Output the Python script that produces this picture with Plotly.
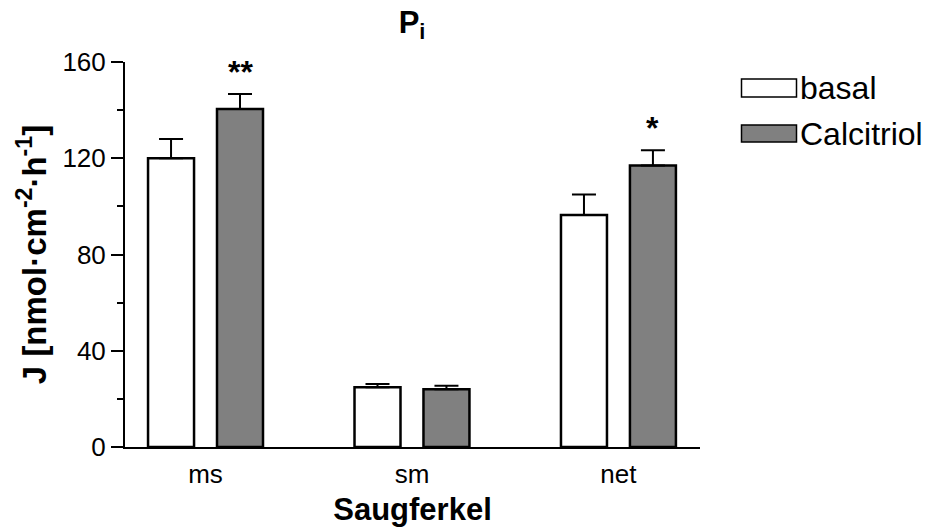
import plotly.graph_objects as go

categories = ["ms", "sm", "net"]
basal = [120.0, 24.8, 96.4]
basal_err = [8.0, 1.4, 8.5]
calcitriol = [140.5, 24.0, 117.0]
calcitriol_err = [6.2, 1.5, 6.3]
calcitriol_sig = ["**", "", "*"]
series_names = ["basal", "Calcitriol"]
y_ticks = [0, 40, 80, 120, 160]

W, H = 931, 532
L, R, T, B = 125, 231, 62, 85
FONT = "Liberation Sans, Arial, Helvetica, sans-serif"

def px_x(px):
    return (px - L) / (W - L - R)

def px_y(py):
    return (H - B - py) / (H - T - B)

fig = go.Figure()
fig.add_trace(go.Bar(
    name=series_names[0], x=categories, y=basal,
    marker=dict(color="white", line=dict(color="black", width=2.5)),
    error_y=dict(type="data", array=basal_err, arrayminus=[0]*3, symmetric=False,
                 color="black", thickness=2, width=12),
    showlegend=False,
))
fig.add_trace(go.Bar(
    name=series_names[1], x=categories, y=calcitriol,
    marker=dict(color="#808080", line=dict(color="black", width=2.5)),
    error_y=dict(type="data", array=calcitriol_err, arrayminus=[0]*3, symmetric=False,
                 color="black", thickness=2, width=12),
    showlegend=False,
))

# significance stars
for cat, v, e, s in zip(categories, calcitriol, calcitriol_err, calcitriol_sig):
    if s:
        fig.add_annotation(x=cat, y=v + e, xshift=34.5, yshift=2, text=s, showarrow=False,
                           xanchor="center", yanchor="bottom",
                           font=dict(family=FONT, size=32, color="black", weight="bold"))

# custom legend (wide rectangles)
legend_fill = ["white", "#808080"]
legend_rows = [(79, 97), (125, 142)]
for name, fill, (ya, yb) in zip(series_names, legend_fill, legend_rows):
    fig.add_shape(type="rect", xref="paper", yref="paper",
                  x0=px_x(741.5), x1=px_x(796.5), y0=px_y(yb), y1=px_y(ya),
                  fillcolor=fill, line=dict(color="black", width=1.5))
    fig.add_annotation(xref="paper", yref="paper", x=px_x(798), y=px_y((ya + yb) / 2),
                       text=name, showarrow=False, xanchor="left", yanchor="middle",
                       font=dict(family=FONT, size=32, color="black"))

fig.update_layout(
    width=W, height=H,
    margin=dict(l=L, r=R, t=T, b=B, autoexpand=False),
    paper_bgcolor="white", plot_bgcolor="white",
    barmode="group", bargap=0.332, bargroupgap=0.333,
    font=dict(family=FONT, color="black"),
    title=dict(text="P<sub>i</sub>", xref="paper", x=px_x(412), xanchor="center",
               yref="container", y=1 - 22 / H, yanchor="middle",
               font=dict(family=FONT, size=31, color="black", weight="bold")),
)
fig.update_xaxes(
    type="category", range=[-0.39, 2.395],
    showline=True, linecolor="black", linewidth=2,
    ticks="", showgrid=False, zeroline=False,
    ticklabelstandoff=3,
    tickfont=dict(family=FONT, size=26, color="black"),
    title=dict(text="Saugferkel", standoff=10,
               font=dict(family=FONT, size=31, color="black", weight="bold")),
)
fig.update_yaxes(
    range=[0, 160], tickvals=y_ticks,
    showline=True, linecolor="black", linewidth=2,
    ticks="outside", ticklen=12, tickwidth=2, tickcolor="black",
    minor=dict(ticks="outside", ticklen=6, tickwidth=2, tickcolor="black", dtick=20, showgrid=False),
    showgrid=False, zeroline=False,
    ticklabelstandoff=0,
    tickfont=dict(family=FONT, size=26, color="black"),
    title=dict(text="J [nmol·cm<sup>-2</sup>·h<sup>-1</sup>]", standoff=6,
               font=dict(family=FONT, size=33, color="black", weight="bold")),
)

fig.write_html("out.html")
